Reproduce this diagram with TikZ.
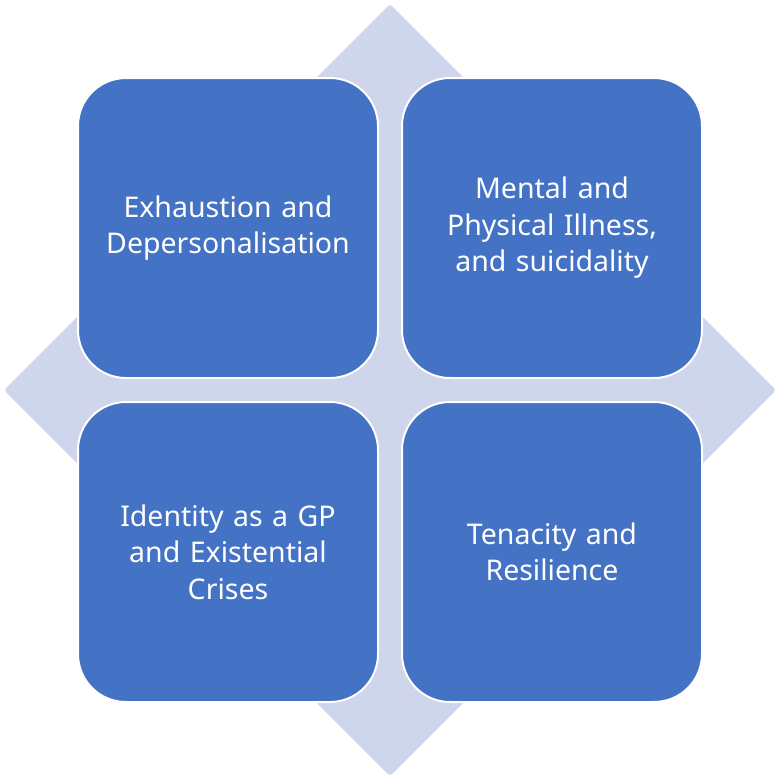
\documentclass[tikz,border=0pt]{standalone}
\usepackage{fontspec}
\setmainfont{Noto Sans}
\definecolor{boxblue}{HTML}{4472C4}
\definecolor{diam}{HTML}{CFD5EA}
\begin{document}
\begin{tikzpicture}[x=1pt,y=-1pt,
  quad/.style={draw=white, line width=2pt, fill=boxblue, rounded corners=48pt,
    minimum width=300pt, minimum height=300pt, inner sep=0pt, text=white,
    align=center, font=\fontsize{28.5}{36.5}\selectfont, text width=290pt}]
\useasboundingbox (0,0) rectangle (780,780);
\fill[diam, rounded corners=3pt] (390,4) -- (776,390) -- (390,776) -- (4,390) -- cycle;
\node[quad] (tl) at (228,228) {Exhaustion and\\Depersonalisation};
\node[quad] (tr) at (552,228) {Mental and\\Physical Illness,\\and suicidality};
\node[quad] (bl) at (228,552) {Identity as a GP\\and Existential\\Crises};
\node[quad] (br) at (552,552) {Tenacity and\\Resilience};
\end{tikzpicture}
\end{document}
